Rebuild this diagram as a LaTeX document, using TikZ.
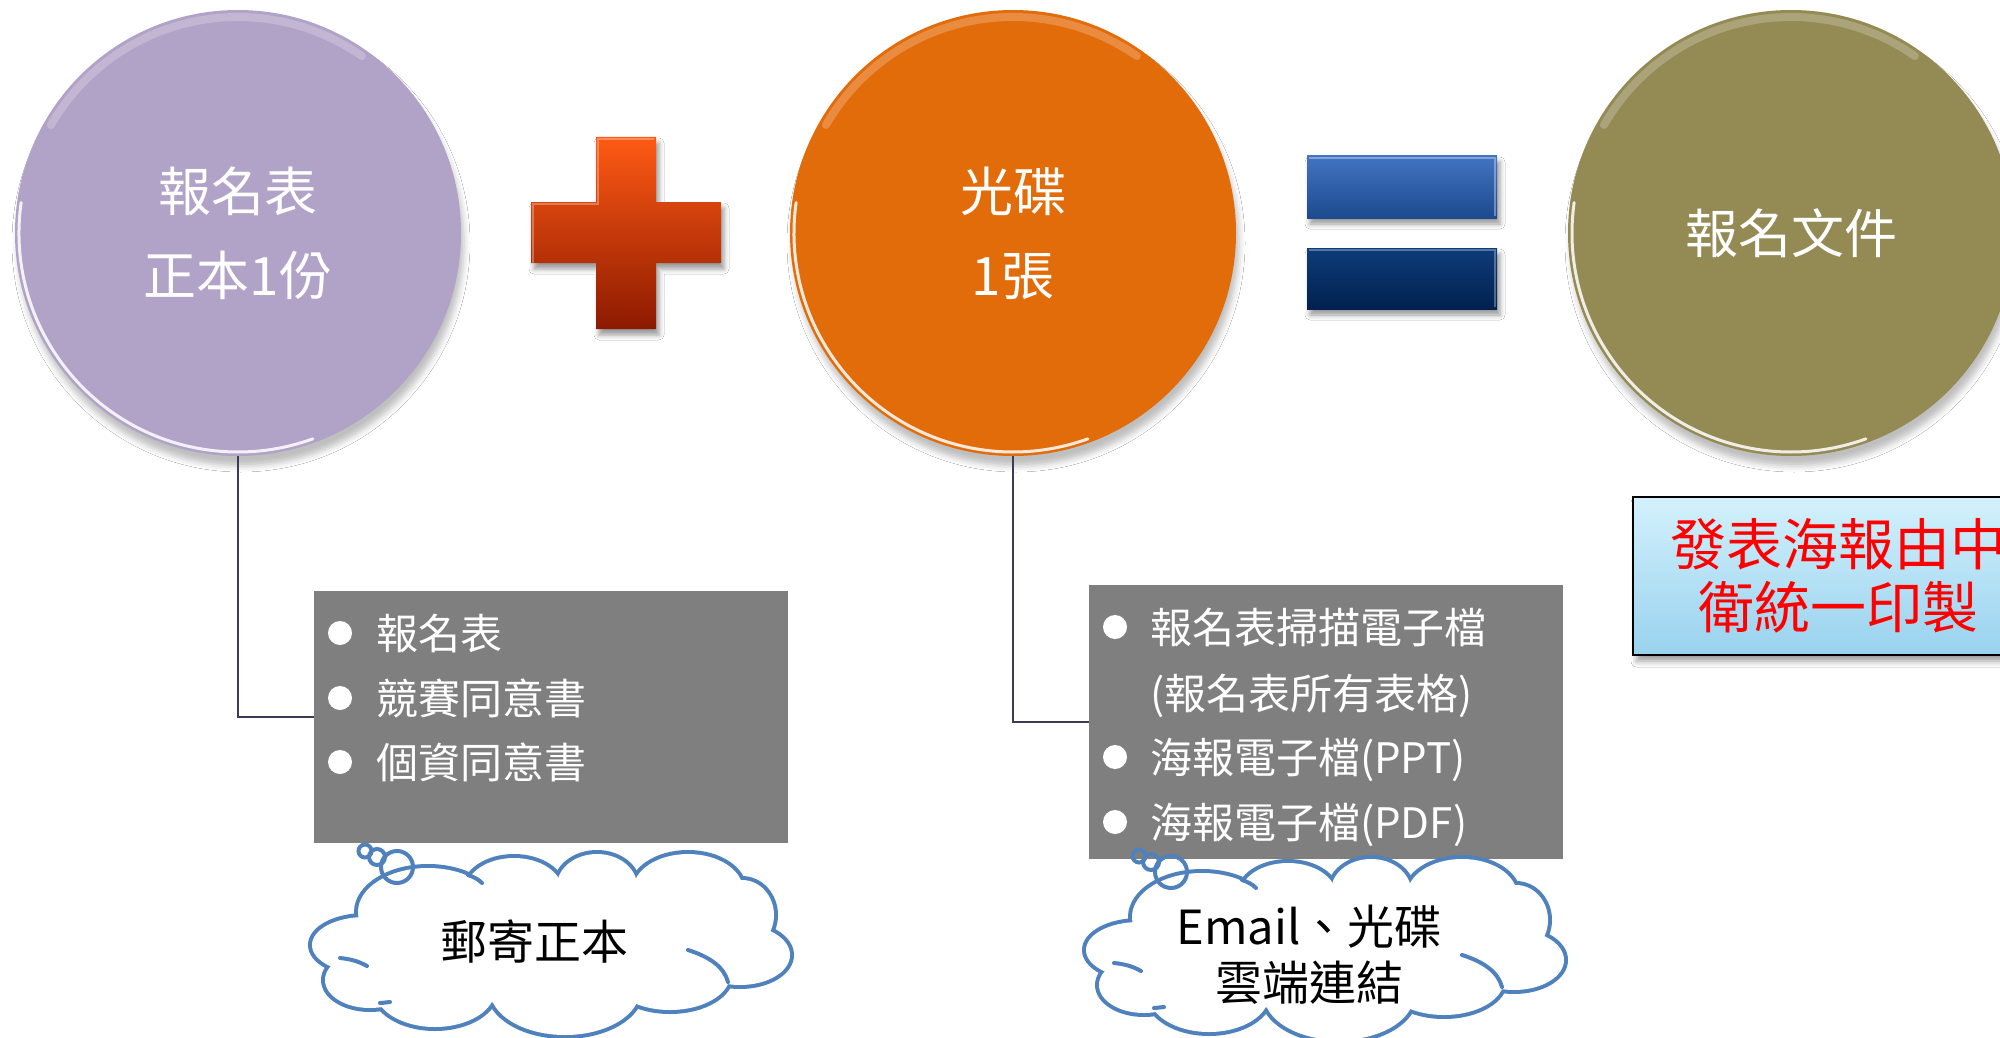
\documentclass[tikz,border=0pt]{standalone}
\usepackage{fontspec}
\newfontfamily\cjk{Noto Sans CJK TC}
\usetikzlibrary{shadows.blur}
\definecolor{purp}{HTML}{B1A2C7}
\definecolor{oran}{HTML}{E36C0A}
\definecolor{oliv}{HTML}{948A54}
\definecolor{cloudblue}{HTML}{4F81BD}
\definecolor{boxgray}{HTML}{7F7F7F}
\definecolor{linec}{HTML}{3B3B55}
\definecolor{plustop}{HTML}{FF5A14}
\definecolor{plusmid}{HTML}{DA3A00}
\definecolor{plusbot}{HTML}{8C1A00}
\definecolor{eqAtop}{HTML}{4374C2}
\definecolor{eqAbot}{HTML}{1C4A8E}
\definecolor{eqBtop}{HTML}{0E3C7A}
\definecolor{eqBbot}{HTML}{01214F}
\definecolor{rbtop}{HTML}{D3F1FC}
\definecolor{rbbot}{HTML}{99D2EE}
\newcommand\drawmycloud{%
  \foreach \cx/\cy/\rx/\ry in {428/912/70/44, 514/890/48/32, 597/886/40/32, 688/890/55/36, 742/915/32/35, 740/955/50/30, 670/975/60/35, 565/990/75/45, 435/990/60/37, 370/980/45/28, 365/945/53/28}{
    \draw[cloudblue, line width=8pt] (\cx,\cy) ellipse[x radius=\rx, y radius=\ry];}
  \foreach \cx/\cy/\rx/\ry in {428/912/70/44, 514/890/48/32, 597/886/40/32, 688/890/55/36, 742/915/32/35, 740/955/50/30, 670/975/60/35, 565/990/75/45, 435/990/60/37, 370/980/45/28, 365/945/53/28}{
    \fill[white] (\cx,\cy) ellipse[x radius=\rx, y radius=\ry];}
  \fill[white] (550,945) ellipse[x radius=200, y radius=60];
  \draw[cloudline] (688,950) .. controls (710,957) and (724,967) .. (728,982);
  \draw[cloudline] (340,958) .. controls (350,959) and (358,961) .. (367,966);
  \draw[cloudline] (468,875) .. controls (474,877) and (478,879) .. (482,883);
  \draw[cloudline] (380,1003) .. controls (384,1003) and (387,1002) .. (390,1002);
  \draw[cloudline] (365,851) circle[radius=6.5];
  \draw[cloudline] (377,857) circle[radius=8];
  \draw[cloudline] (397,867) circle[radius=16];
}
\begin{document}
\begin{tikzpicture}[x=1pt,y=-1pt,
  bigcirc/.style={circle, minimum size=446pt, inner sep=0pt, fill=#1, text=white, align=center,
    font=\cjk\fontsize{53}{84}\selectfont,
    blur shadow={shadow xshift=3pt, shadow yshift=-10pt, shadow blur radius=6pt, shadow opacity=25}},
  rim/.style={white, line width=3pt, opacity=0.85, line cap=round},
  softrim/.style={white, line width=8pt, opacity=0.22, line cap=round},
  graybox/.style={rectangle, fill=boxgray, inner sep=0pt, minimum width=474pt},
  bul/.style={circle, fill=white, minimum size=24pt, inner sep=0pt},
  itm/.style={anchor=west, inner sep=0pt, text=white, font=\cjk\fontsize{42}{42}\selectfont,
    text height=37pt, text depth=5pt},
  conn/.style={draw=linec, line width=1.8pt},
  cloudline/.style={draw=cloudblue, line width=4pt, line cap=round},
  cloudtext/.style={text=black, align=center, inner sep=0pt, font=\cjk\fontsize{47}{56}\selectfont},
  redbox/.style={rectangle, draw=black, line width=2pt, top color=rbtop, bottom color=rbbot,
    minimum width=410pt, minimum height=158pt, inner sep=0pt, text=red, align=center,
    font=\cjk\fontsize{56}{63}\selectfont,
    blur shadow={shadow xshift=4pt, shadow yshift=-6pt, shadow blur radius=6pt, shadow opacity=40}},
  symshadow/.style={blur shadow={shadow xshift=3pt, shadow yshift=-6pt, shadow blur radius=5pt, shadow opacity=40}}
]
\path[use as bounding box] (0,0) rectangle (2000,1038);
\clip (0,0) rectangle (2000,1038);
\fill[white] (0,0) rectangle (2000,1038);

% circles
\node[bigcirc=purp] (c1) at (238,233) {報名表\\正本1份};
\node[bigcirc=oran] (c2) at (1013,233) {光碟\\1張};
\node[bigcirc=oliv] (c3) at (1791,233) {報名文件};
\foreach \c in {c1,c2,c3}{
  \draw[rim] ([shift={(172:219pt)}]\c.center) arc[start angle=172, end angle=290, radius=219pt];
  \draw[softrim] ([shift={(55:216pt)}]\c.center) arc[start angle=55, end angle=150, radius=216pt];
}

% plus
\shade[top color=plustop, middle color=plusmid, bottom color=plusbot, symshadow]
  (596,137) -- (656,137) -- (656,202) -- (721,202) -- (721,263) -- (656,263) -- (656,329)
  -- (596,329) -- (596,263) -- (531,263) -- (531,202) -- (596,202) -- cycle;
\draw[white, opacity=0.3, line width=2pt] (533,263) -- (533,204) -- (598,204) -- (598,139) -- (654,139);

% equals
\shade[top color=eqAtop, bottom color=eqAbot, symshadow] (1307,156) rectangle (1497,218);
\shade[top color=eqBtop, bottom color=eqBbot, symshadow] (1307,248) rectangle (1497,309);
\draw[white, opacity=0.35, line width=2pt] (1309,158) -- (1495,158) -- (1495,216);
\draw[white, opacity=0.3, line width=2pt] (1309,250) -- (1495,250) -- (1495,307);

% gray boxes
\node[graybox, minimum height=252pt] (b1) at (551,717) {};
\node[graybox, minimum height=274pt] (b2) at (1326,722) {};
\draw[conn] (c1.south) |- (b1.west);
\draw[conn] (c2.south) |- (b2.west);

\node[bul] (b1d1) at (340,633) {};
\node[bul] (b1d2) at (340,698) {};
\node[bul] (b1d3) at (340,762) {};
\node[itm] (b1t1) at (376,633) {報名表};
\node[itm] (b1t2) at (376,698) {競賽同意書};
\node[itm] (b1t3) at (376,762) {個資同意書};

\node[bul] (b2d1) at (1115,627) {};
\node[bul] (b2d3) at (1115,757) {};
\node[bul] (b2d4) at (1115,822) {};
\node[itm] (b2t1) at (1150,627) {報名表掃描電子檔};
\node[itm] (b2t2) at (1150,693) {(報名表所有表格)};
\node[itm] (b2t3) at (1150,757) {海報電子檔(PPT)};
\node[itm] (b2t4) at (1150,822) {海報電子檔(PDF)};

% red box
\node[redbox] (rb) at (1838,576) {發表海報由中\\衛統一印製};

% clouds
\begin{scope}
  \drawmycloud
\end{scope}
\begin{scope}[shift={(774,5)}]
  \drawmycloud
\end{scope}
\node[cloudtext] (t1) at (534,941) {郵寄正本};
\node[cloudtext] (t2) at (1309,955) {Email、光碟\\雲端連結};
\end{tikzpicture}
\end{document}
